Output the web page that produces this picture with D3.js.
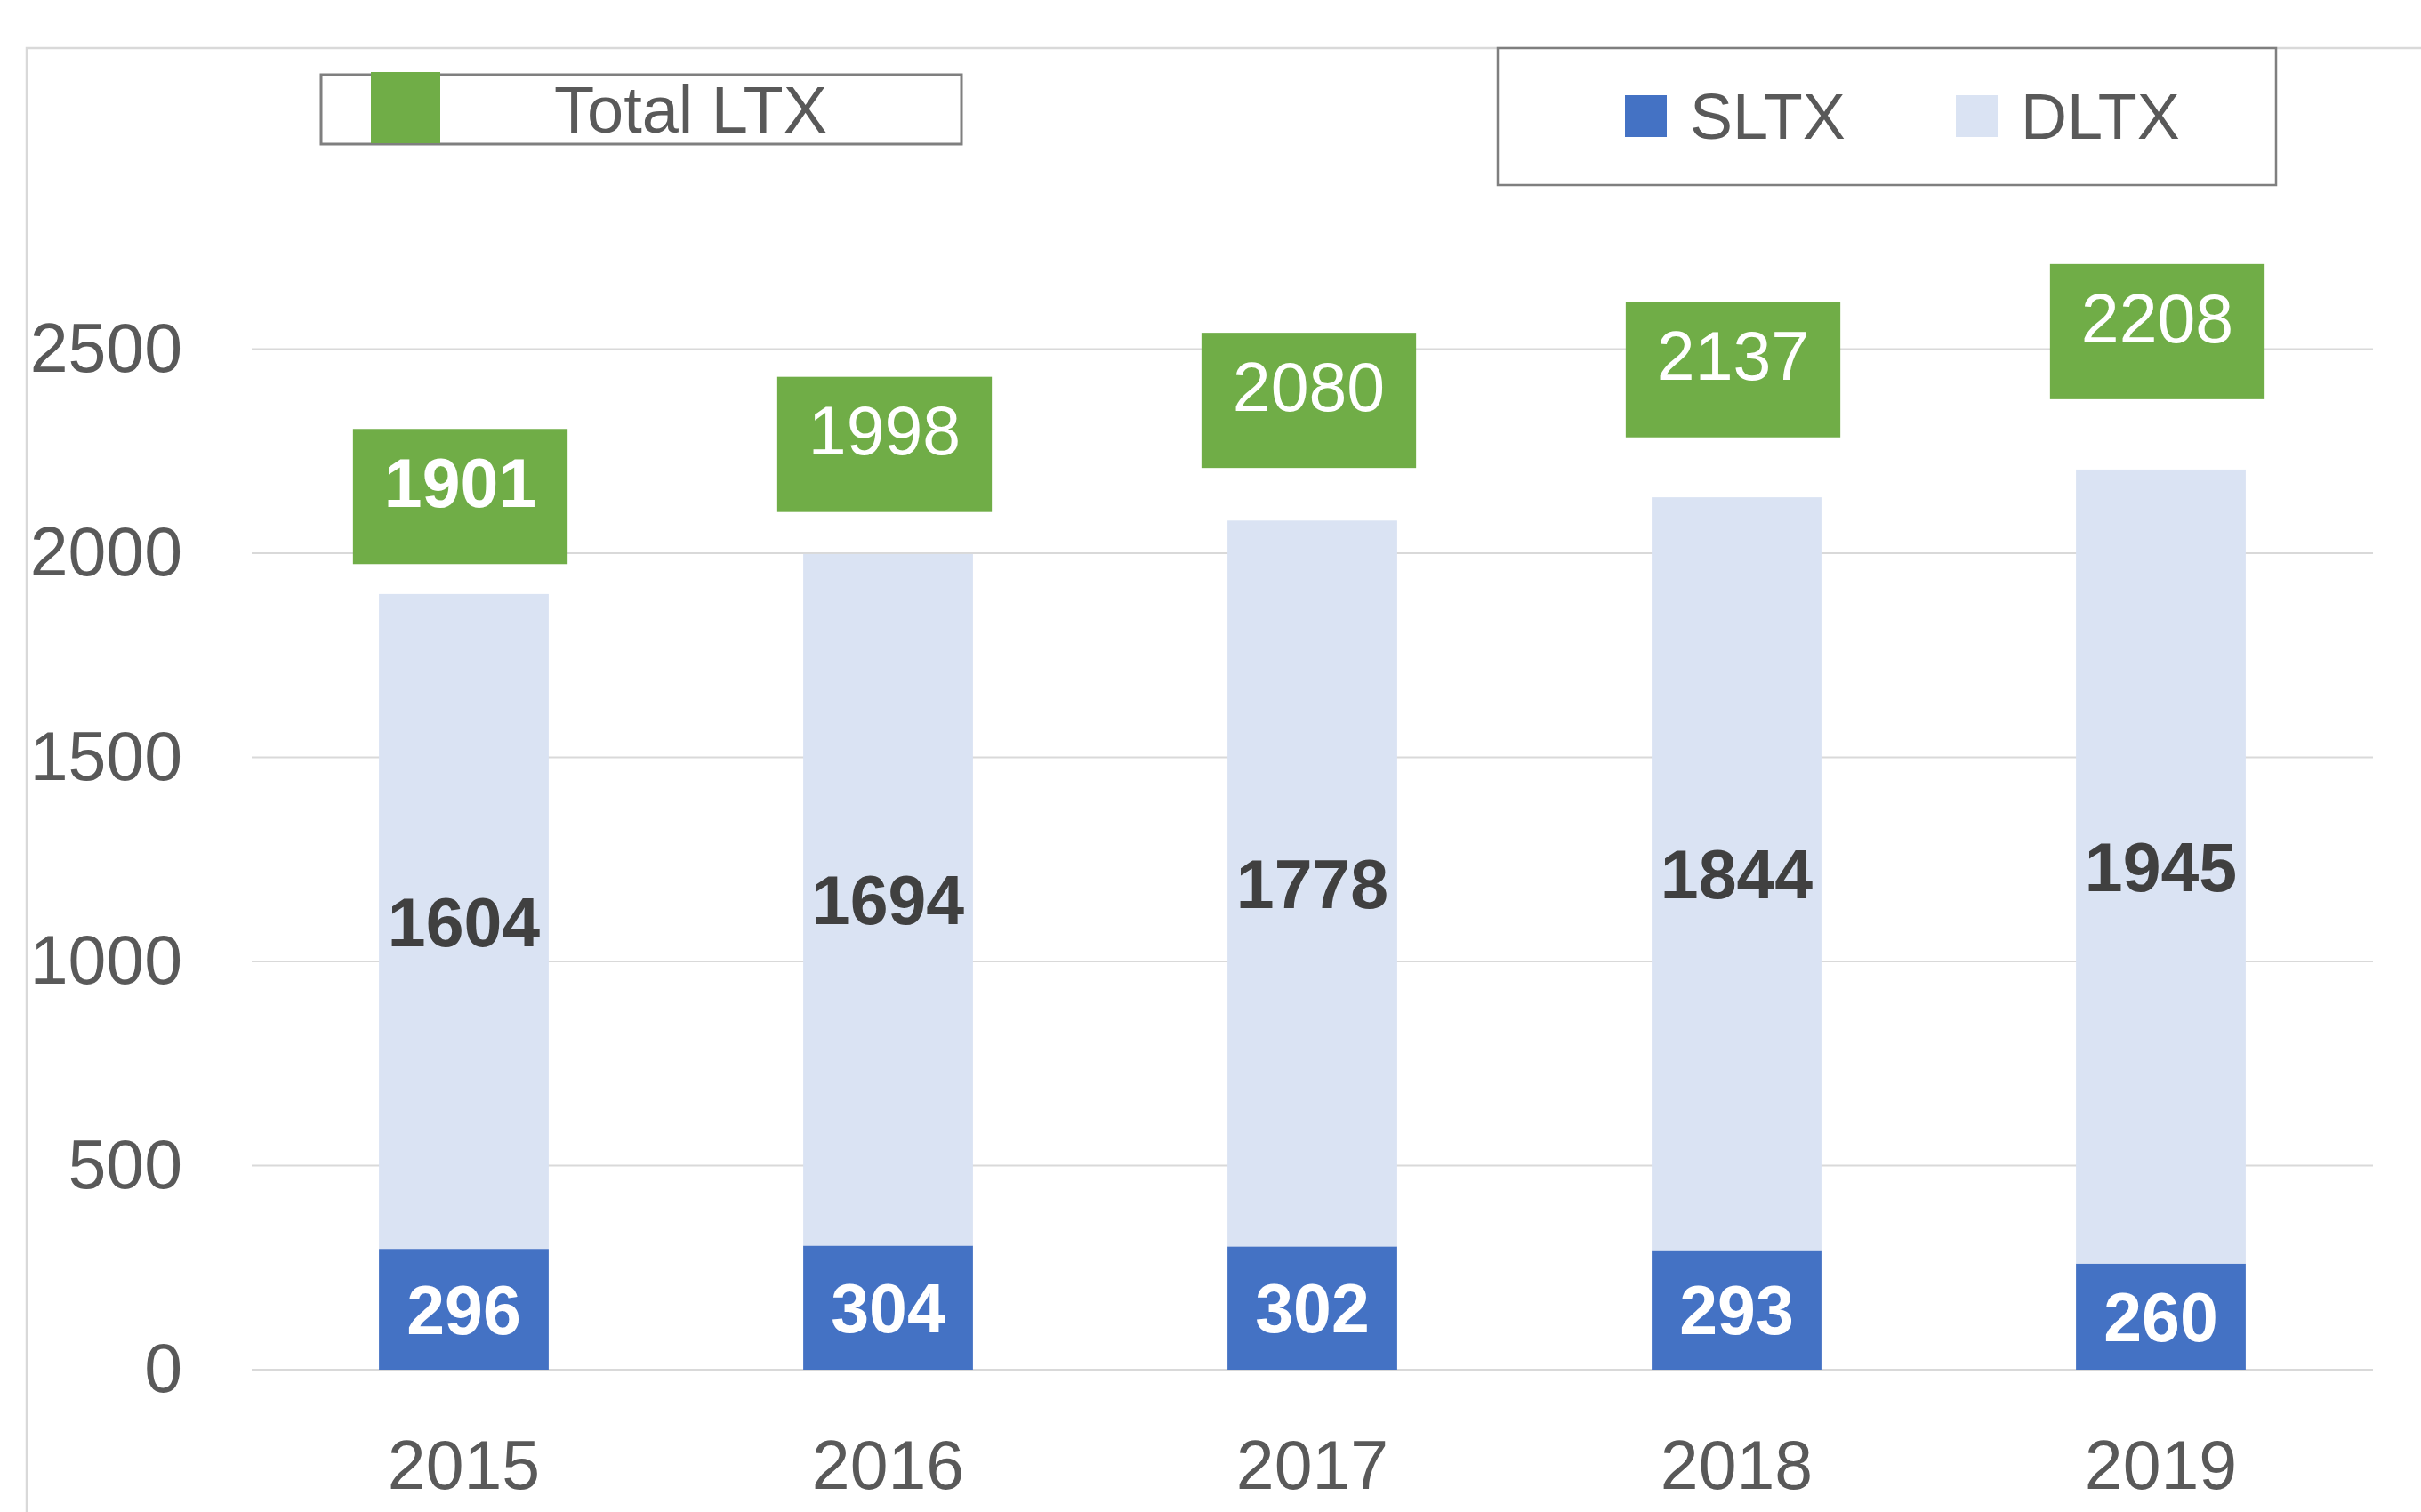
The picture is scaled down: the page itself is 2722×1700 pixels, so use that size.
<!DOCTYPE html>
<html>
<head>
<meta charset="utf-8">
<script src="https://cdn.jsdelivr.net/npm/d3@7"></script>
<style>
  html, body { margin: 0; padding: 0; background: #fff; }
  svg { display: block; font-family: "Liberation Sans", Arial, sans-serif; }
</style>
</head>
<body>
<div id="chart"></div>
<script>
// data
const years = ["2015", "2016", "2017", "2018", "2019"];
const sltx = [296, 304, 302, 293, 260];
const dltx = [1604, 1694, 1778, 1844, 1945];
const totalLtx = [1901, 1998, 2080, 2137, 2208];
const yTicks = [0, 500, 1000, 1500, 2000, 2500];
const seriesNames = ["SLTX", "DLTX"];

(function () {
  "use strict";

  const W = 2722, H = 1700;
  const colors = { SLTX: "#4472C4", DLTX: "#DAE3F3", total: "#70AD47" };
  const textGray = "#595959";
  const gridGray = "#D9D9D9";
  const fontSize = 77;

  const svg = d3.select("#chart").append("svg")
    .attr("width", W).attr("height", H);

  svg.append("rect").attr("width", W).attr("height", H).attr("fill", "#fff");

  // chart area border (runs off the right and bottom edges)
  svg.append("rect")
    .attr("x", 30).attr("y", 54).attr("width", W).attr("height", H)
    .attr("fill", "none").attr("stroke", gridGray).attr("stroke-width", 2.5);

  const x = d3.scaleBand().domain(years).range([283, 2668])
    .paddingInner(0.6).paddingOuter(0.3);
  const y = d3.scaleLinear().domain([0, 2500]).range([1540, 392.5]);
  // hidden secondary axis carrying the Total LTX labels
  const yTotal = d3.scaleLinear().domain([600, 2500]).range([1540, 392.5]);

  // gridlines
  svg.append("g").selectAll("line")
    .data(yTicks)
    .join("line")
    .attr("x1", x.range()[0]).attr("x2", x.range()[1])
    .attr("y1", d => y(d)).attr("y2", d => y(d))
    .attr("stroke", gridGray).attr("stroke-width", 2);

  // axes
  const yAxis = svg.append("g").attr("transform", `translate(${x.range()[0]},0)`)
    .call(d3.axisLeft(y).tickValues(yTicks).tickFormat(d3.format("d")).tickSize(0).tickPadding(78));
  yAxis.select(".domain").remove();
  yAxis.selectAll("text").attr("font-size", fontSize).attr("fill", textGray)
    .attr("font-family", "Liberation Sans, Arial, sans-serif");

  const xAxis = svg.append("g").attr("transform", `translate(0,${y(0)})`)
    .call(d3.axisBottom(x).tickSize(0).tickPadding(79));
  xAxis.select(".domain").remove();
  xAxis.selectAll("text").attr("font-size", fontSize).attr("fill", textGray)
    .attr("font-family", "Liberation Sans, Arial, sans-serif");

  // stacked bars
  const rows = years.map((yr, i) => ({ year: yr, SLTX: sltx[i], DLTX: dltx[i] }));
  const stacked = d3.stack().keys(seriesNames)(rows);

  const layers = svg.append("g").selectAll("g")
    .data(stacked)
    .join("g")
    .attr("fill", d => colors[d.key]);

  layers.selectAll("rect")
    .data(d => d)
    .join("rect")
    .attr("x", d => x(d.data.year))
    .attr("width", x.bandwidth())
    .attr("y", d => y(d[1]))
    .attr("height", d => y(d[0]) - y(d[1]));

  layers.selectAll("text")
    .data(d => d.map(v => ({ v, key: d.key })))
    .join("text")
    .attr("x", d => x(d.v.data.year) + x.bandwidth() / 2)
    .attr("y", d => (y(d.v[0]) + y(d.v[1])) / 2)
    .attr("dy", "0.36em")
    .attr("text-anchor", "middle")
    .attr("font-size", fontSize)
    .attr("font-weight", "bold")
    .attr("fill", d => d.key === "SLTX" ? "#fff" : "#404040")
    .text(d => d.v.data[d.key]);

  // total labels in green boxes
  const boxH = 152;
  const totals = svg.append("g").selectAll("g")
    .data(years.map((yr, i) => ({ year: yr, value: totalLtx[i] })))
    .join("g")
    .attr("transform", d => `translate(${x(d.year) + x.bandwidth() / 2 - 4},${yTotal(d.value) - 196})`);

  const boxRect = totals.append("rect").attr("fill", colors.total);
  const boxText = totals.append("text")
    .attr("y", -16).attr("dy", "0.36em")
    .attr("text-anchor", "middle")
    .attr("font-size", fontSize)
    .attr("font-weight", (d, i) => i === 0 ? "bold" : "normal")
    .attr("fill", "#fff")
    .text(d => d.value);

  boxText.each(function (d) { d.tw = this.getComputedTextLength(); });
  boxRect
    .attr("x", d => -(d.tw + 70) / 2)
    .attr("width", d => d.tw + 70)
    .attr("y", -boxH / 2)
    .attr("height", boxH);

  // legend: Total LTX
  const leg1 = svg.append("g");
  leg1.append("rect")
    .attr("x", 361).attr("y", 84).attr("width", 720).attr("height", 78)
    .attr("fill", "#fff").attr("stroke", "#7F7F7F").attr("stroke-width", 3);
  leg1.append("rect")
    .attr("x", 417).attr("y", 81).attr("width", 78).attr("height", 80)
    .attr("fill", colors.total);
  leg1.append("text")
    .attr("x", 623).attr("y", 122).attr("dy", "0.36em")
    .attr("font-size", 74).attr("fill", textGray)
    .text("Total LTX");

  // legend: SLTX / DLTX
  const leg2 = svg.append("g");
  leg2.append("rect")
    .attr("x", 1684).attr("y", 54).attr("width", 875).attr("height", 154)
    .attr("fill", "#fff").attr("stroke", "#7F7F7F").attr("stroke-width", 2.5);

  const legX = { SLTX: 1827, DLTX: 2199 };
  const items = leg2.selectAll("g")
    .data(seriesNames)
    .join("g")
    .attr("transform", d => `translate(${legX[d]},0)`);
  items.append("rect")
    .attr("y", 107).attr("width", 47).attr("height", 47)
    .attr("fill", d => colors[d]);
  items.append("text")
    .attr("x", 73).attr("y", 130).attr("dy", "0.36em")
    .attr("font-size", 72).attr("fill", textGray)
    .text(d => d);
})();
</script>
</body>
</html>
